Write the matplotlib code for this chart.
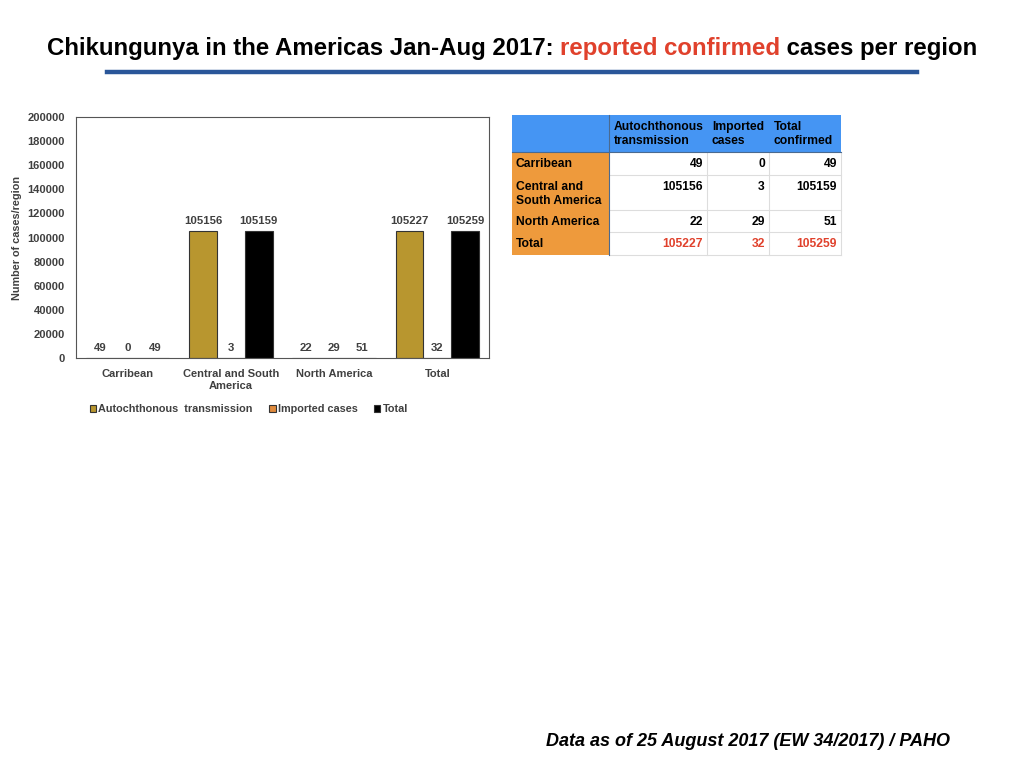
import matplotlib.pyplot as plt
import numpy as np
from matplotlib.patches import Rectangle

plt.rcParams['font.family'] = ['Liberation Sans', 'DejaVu Sans']

regions = ['Carribean', 'Central and South\nAmerica', 'North America', 'Total']
row_names = ['Carribean', 'Central and\nSouth America', 'North America', 'Total']
autoch = [49, 105156, 22, 105227]
imported = [0, 3, 29, 32]
total = [49, 105159, 51, 105259]
series_names = ['Autochthonous  transmission', 'Imported cases', 'Total']
col_names = ['Autochthonous\ntransmission', 'Imported\ncases', 'Total\nconfirmed']

c_auto = '#B8962F'
c_imp = '#E08A3C'
c_tot = '#000000'
gray = '#404040'

fig = plt.figure(figsize=(10.24, 7.68), dpi=100)
W, H = 1024, 768

def fx(px):
    return px / W

def fy(py):
    return 1 - py / H

# title in three colored parts
r = fig.canvas.get_renderer()
parts = [('Chikungunya in the Americas Jan-Aug 2017: ', 'black'),
         ('reported confirmed', '#E0412C'),
         (' cases per region', 'black')]
x = fx(47)
for s, c in parts:
    t = fig.text(x, fy(48), s, color=c, fontsize=17.3, fontweight='bold', va='center', ha='left')
    bb = t.get_window_extent(renderer=r)
    x = x + bb.width / W

fig.add_artist(plt.Line2D([fx(107), fx(917)], [fy(72), fy(72)], color='#2A5699', lw=3.2))

# bar chart
ax = fig.add_axes([fx(76), fy(358), fx(489) - fx(76), fy(117) - fy(358)])
xs = np.arange(len(regions))
w = 0.27
lists = [autoch, imported, total]
cols = [c_auto, c_imp, c_tot]
for i, (vals, c, name) in enumerate(zip(lists, cols, series_names)):
    bars = ax.bar(xs + (i - 1) * w, vals, w, color=c, edgecolor='#333333', linewidth=0.8, label=name)
    for b, v in zip(bars, vals):
        ax.text(b.get_x() + b.get_width() / 2, v + 4000, str(v), ha='center', va='bottom',
                fontsize=8.2, fontweight='bold', color=gray)
ax.set_xlim(-0.5, 3.5)
ax.set_ylim(0, 200000)
ax.set_yticks(np.arange(0, 200001, 20000))
ax.set_xticks(xs)
ax.set_xticklabels(regions)
ax.tick_params(axis='both', length=0, labelsize=8, labelcolor=gray, pad=8)
for lab in ax.get_xticklabels() + ax.get_yticklabels():
    lab.set_fontweight('bold')
ax.set_ylabel('Number of cases/region', fontsize=7.8, fontweight='bold', color=gray, labelpad=4)
for sp in ax.spines.values():
    sp.set_color('#555555')
    sp.set_linewidth(0.8)

leg = fig.legend(*ax.get_legend_handles_labels(), loc='center left', bbox_to_anchor=(fx(80), fy(409)),
                 ncol=3, frameon=False, fontsize=7.8, handlelength=0.6, handleheight=0.6,
                 handletextpad=0.2, columnspacing=1.5)
for t in leg.get_texts():
    t.set_fontweight('bold')
    t.set_color(gray)

# table
col_x = [512, 609, 707, 769, 841]
row_y = [115, 152, 175, 210, 232, 255]
head_c = '#4595F3'
side_c = '#EE9A3C'
fig.add_artist(Rectangle((fx(512), fy(152)), fx(841) - fx(512), fy(115) - fy(152), color=head_c, lw=0))
fig.add_artist(Rectangle((fx(512), fy(255)), fx(609) - fx(512), fy(152) - fy(255), color=side_c, lw=0))
for j, name in enumerate(col_names):
    fig.text(fx(col_x[j + 1] + 5), fy(121), name, fontsize=8.7, fontweight='bold', va='top',
             ha='left', linespacing=1.25)
for i, name in enumerate(row_names):
    fig.text(fx(516), fy(row_y[i + 1] + 6), name, fontsize=8.7, fontweight='bold', va='top',
             ha='left', linespacing=1.25)
    vals = [autoch[i], imported[i], total[i]]
    for j, v in enumerate(vals):
        fig.text(fx(col_x[j + 2] - 4), fy(row_y[i + 1] + 6), str(v), fontsize=8.7, fontweight='bold',
                 va='top', ha='right', color='#E0412C' if name == 'Total' else 'black')
for yy in row_y[2:]:
    fig.add_artist(plt.Line2D([fx(609), fx(841)], [fy(yy), fy(yy)], color='#DDDDDD', lw=0.8))
for xx in col_x[2:4]:
    fig.add_artist(plt.Line2D([fx(xx), fx(xx)], [fy(152), fy(255)], color='#DDDDDD', lw=0.8))
fig.add_artist(plt.Line2D([fx(841), fx(841)], [fy(152), fy(255)], color='#DDDDDD', lw=0.8))
fig.add_artist(plt.Line2D([fx(609), fx(609)], [fy(115), fy(255)], color='#4A6A90', lw=0.8))
fig.add_artist(plt.Line2D([fx(512), fx(841)], [fy(152), fy(152)], color='#4A6A90', lw=0.8))

fig.text(fx(950), fy(741), 'Data as of 25 August 2017 (EW 34/2017) / PAHO', fontsize=13,
         fontweight='bold', fontstyle='italic', ha='right', va='center')

fig.savefig('out.png', dpi=100)
